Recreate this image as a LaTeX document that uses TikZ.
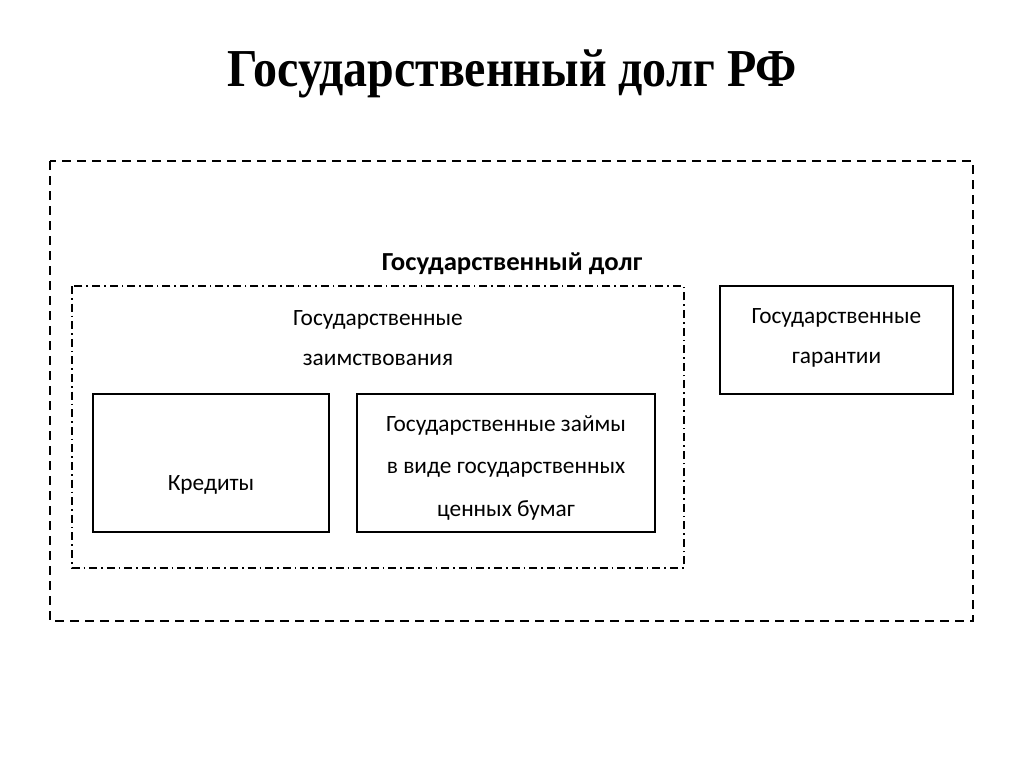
\documentclass[tikz,border=0pt]{standalone}
\usepackage{fontspec}
\setmainfont{Carlito}
\newfontfamily\titlefont{Liberation Serif}
\begin{document}
\begin{tikzpicture}[x=0.75pt,y=-0.75pt,
  box/.style={draw=black,line width=1.6pt},
  outerbox/.style={draw=black,line width=1.6pt,dash pattern=on 6.75pt off 4.5pt},
  dashdotbox/.style={draw=black,line width=1.4pt,dash pattern=on 6pt off 3pt on 1.2pt off 3pt},
  txt/.style={font=\fontsize{17.5}{30}\selectfont,align=center,inner sep=0pt}]
\useasboundingbox (0,0) rectangle (1024,767);
\node[font=\titlefont\bfseries\fontsize{40}{46}\selectfont,inner sep=0pt,xscale=0.9] (title) at (512,74) {Государственный долг РФ};
\draw[outerbox] (50,161) rectangle (973,621);
\node[font=\bfseries\fontsize{19.5}{24}\selectfont,inner sep=0pt,xscale=1.03] (lbl) at (512,264) {Государственный долг};
\draw[dashdotbox] (72,286) rectangle (684,568);
\node[txt] (zaim) at (378,338) {Государственные\\заимствования};
\node[box,minimum width=177pt,minimum height=103.5pt,inner sep=0pt] (kred) at (211,463) {};
\node[txt] at (211,485) {Кредиты};
\node[box,minimum width=223.5pt,minimum height=103.5pt,inner sep=0pt] (zaimy) at (506,463) {};
\node[txt,font=\fontsize{17.5}{32}\selectfont] at (506,468) {Государственные займы\\в виде государственных\\ценных бумаг};
\node[box,minimum width=174.75pt,minimum height=81pt,inner sep=0pt] (gar) at (836.5,340) {};
\node[txt] at (836.5,338) {Государственные\\гарантии};
\end{tikzpicture}
\end{document}
